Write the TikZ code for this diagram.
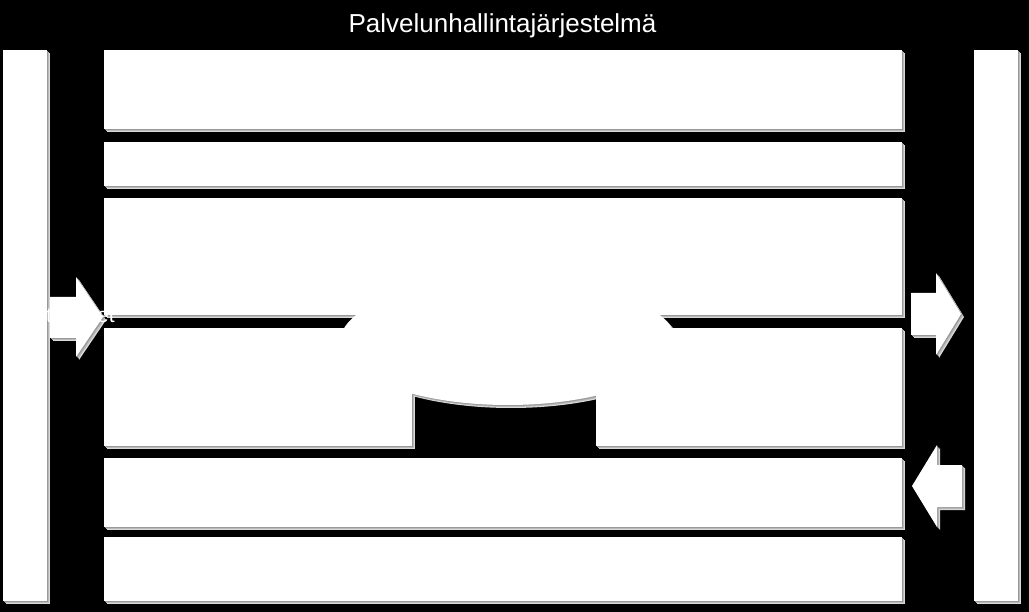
\documentclass[tikz,border=0pt]{standalone}
\usepackage{fontspec}
\setmainfont{Liberation Sans}
\newcommand\myshapes[1]{%
  \fill[#1] (3,50) rectangle (47,601);
  \fill[#1] (974,50) rectangle (1018,601);
  \fill[#1] (104,50) rectangle (902,129);
  \fill[#1] (104,142) rectangle (902,186);
  \fill[#1] (104,198) rectangle (902,315);
  \fill[#1] (104,328) rectangle (412,446);
  \fill[#1] (596,328) rectangle (902,446);
  \fill[#1] (508,342) ellipse [x radius=168, y radius=63];
  \fill[#1] (104,458) rectangle (902,527);
  \fill[#1] (104,537) rectangle (902,601);
  \fill[#1] (50,297) -- (76,297) -- (76,277) -- (103,317) -- (76,357) -- (76,338) -- (50,338) -- cycle;
  \fill[#1] (911,293) -- (936,293) -- (936,273) -- (961,314) -- (936,355) -- (936,335) -- (911,335) -- cycle;
  \fill[#1] (962,465) -- (937,465) -- (937,445) -- (912,486) -- (937,527) -- (937,507) -- (962,507) -- cycle;
}
\tikzset{
  titletext/.style={text=white, font=\fontsize{26}{31}\selectfont, anchor=base, inner sep=0pt},
  fragtext/.style={text=white, font=\fontsize{21}{25}\selectfont, anchor=base west, inner sep=0pt}
}
\begin{document}
\begin{tikzpicture}[x=1pt,y=-1pt]
  \fill[black] (0,0) rectangle (1029,612);
  \useasboundingbox (0,0) rectangle (1029,612);
  \begin{scope}[shift={(3,3)}]\myshapes{gray!30}\end{scope}
  \begin{scope}[shift={(2,2)}]\myshapes{gray!55}\end{scope}
  \begin{scope}[shift={(1,1)}]\myshapes{gray!80}\end{scope}
  \myshapes{white}
  \node[titletext] (title) at (502.5,33) {Palvelunhallintajärjestelmä};
  \node[fragtext] (fragA) at (46,323) {t};
  \node[fragtext] (fragB) at (97,323) {et};
\end{tikzpicture}
\end{document}
